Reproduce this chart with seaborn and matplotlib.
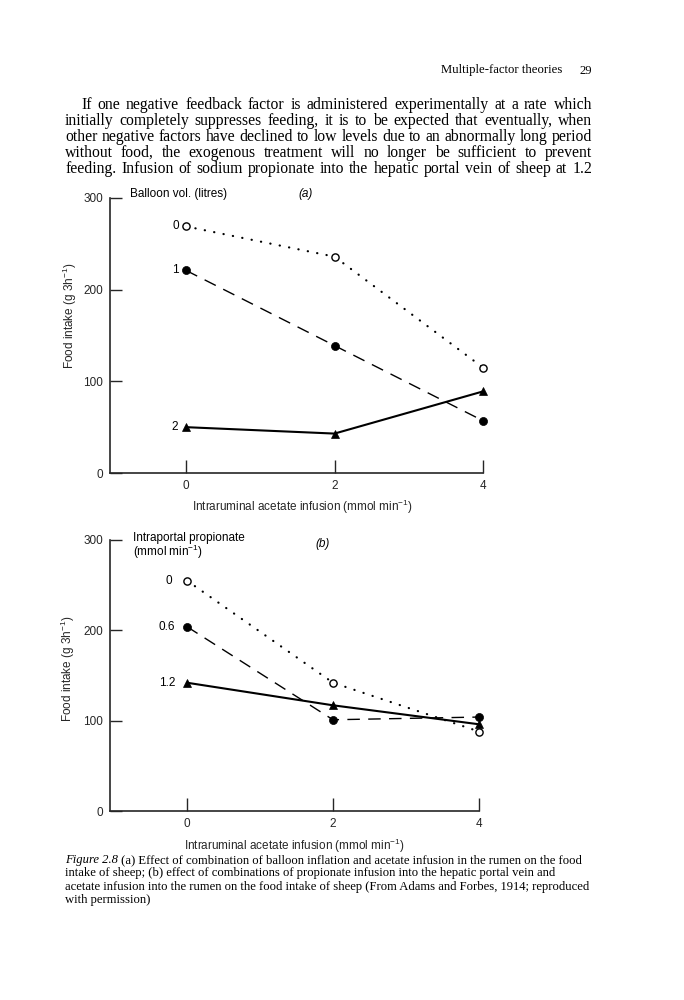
import matplotlib
matplotlib.use("Agg")
import matplotlib.pyplot as plt
import seaborn as sns

# ---- data ----
acetate = [0, 2, 4]  # intraruminal acetate infusion (mmol/min)

# (a) balloon volume (litres)
balloon_labels = ["0", "1", "2"]
balloon_0 = [269, 236, 115]
balloon_1 = [221, 139, 57]
balloon_2 = [50, 43, 89]

# (b) intraportal propionate (mmol/min)
prop_labels = ["0", "0.6", "1.2"]
prop_0 = [255, 142, 88]
prop_06 = [204, 101, 104]
prop_12 = [142, 117, 96]

x_ticks = [0, 2, 4]
y_ticks = [0, 100, 200, 300]

header = "Multiple-factor theories"
page_no = "29"
paragraph = [
    "If one negative feedback factor is administered experimentally at a rate which",
    "initially completely suppresses feeding, it is to be expected that eventually, when",
    "other negative factors have declined to low levels due to an abnormally long period",
    "without food, the exogenous treatment will no longer be sufficient to prevent",
    "feeding. Infusion of sodium propionate into the hepatic portal vein of sheep at 1.2",
]
caption_lead = "Figure 2.8"
caption = [
    " (a) Effect of combination of balloon inflation and acetate infusion in the rumen on the food",
    "intake of sheep; (b) effect of combinations of propionate infusion into the hepatic portal vein and",
    "acetate infusion into the rumen on the food intake of sheep (From Adams and Forbes, 1914; reproduced",
    "with permission)",
]

sns.set_style("ticks")
SANS = "Liberation Sans"
SERIF = "Liberation Serif"
plt.rcParams["font.family"] = [SANS, "DejaVu Sans"]
plt.rcParams["mathtext.fontset"] = "custom"
plt.rcParams["mathtext.rm"] = SANS
plt.rcParams["mathtext.it"] = SANS + ":italic"
plt.rcParams["mathtext.bf"] = SANS + ":bold"
plt.rcParams["text.color"] = "black"

W, H = 684, 1000
fig = plt.figure(figsize=(W / 100, H / 100), dpi=100)
fig.patch.set_facecolor("white")
renderer = fig.canvas.get_renderer()


def width_px(s, **kw):
    t = fig.text(0, 0, s, **kw)
    w = t.get_window_extent(renderer).width
    t.remove()
    return w


def fit(s, target, family, style="normal"):
    return 10 * target / width_px(s, fontsize=10, family=family, style=style)


def justified(line, x0, x1, y, size):
    words = line.split()
    arts = [fig.text(0, 1 - y / H, w, fontsize=size, family=SERIF, va="baseline")
            for w in words]
    widths = [a.get_window_extent(renderer).width for a in arts]
    gap = (x1 - x0 - sum(widths)) / (len(words) - 1)
    x = x0
    for a, w in zip(arts, widths):
        a.set_x(x / W)
        x += w + gap


# ---- page text ----
hsize = fit(header, 121, SERIF)
fig.text(441 / W, 1 - 73.5 / H, header, fontsize=hsize, family=SERIF, va="baseline")
fig.text(579 / W, 1 - 73.5 / H, page_no, fontsize=hsize, family=SERIF, va="baseline")

psize = fit(paragraph[2], 527, SERIF)
for i, line in enumerate(paragraph):
    justified(line, 81 if i == 0 else 65, 592, 109 + 16 * i, psize)

csize = fit(caption[2], 522, SERIF)
lead = fig.text(65 / W, 1 - 863 / H, caption_lead, fontsize=csize, family=SERIF,
                style="italic", va="baseline")
lead_w = lead.get_window_extent(renderer).width
for i, line in enumerate(caption):
    x0 = 65 + lead_w if i == 0 else 65
    fig.text(x0 / W, 1 - (863 + 13.4 * i) / H, line, fontsize=csize, family=SERIF,
             va="baseline")


# ---- charts ----
styles = [
    dict(linestyle=(0, (0.1, 4.2)), dash_capstyle="round", lw=1.6, marker="o",
         markersize=5.2, markerfacecolor="white", markeredgecolor="black", markeredgewidth=1.0),
    dict(linestyle=(0, (9, 6)), lw=1.0, marker="o", markersize=5.8,
         markerfacecolor="black", markeredgecolor="black", markeredgewidth=0.5),
    dict(linestyle="-", lw=1.5, marker="^", markersize=6,
         markerfacecolor="black", markeredgecolor="black", markeredgewidth=0.5),
]
FS = 8.5


def panel(rect, xmin, series, labels, label_dx, heading, tag, tag_xy, ylab_xy, xlab_xy):
    ax = fig.add_axes(rect)
    for vals, lab, st, dx in zip(series, labels, styles, label_dx):
        sns.lineplot(x=acetate, y=vals, ax=ax, color="black", clip_on=False, **st)
        ax.annotate(lab, xy=(acetate[0], vals[0]), xytext=(dx, 0),
                    textcoords="offset points", ha="right", va="center", fontsize=FS)
    ax.set_xlim(xmin, 4)
    ax.set_ylim(0, 300)
    ax.set_xticks(x_ticks)
    ax.set_yticks(y_ticks)
    sns.despine(ax=ax)
    for s in ("left", "bottom"):
        ax.spines[s].set_linewidth(1.2)
    ax.tick_params(axis="y", direction="in", length=8.5, width=1.0, pad=5, labelsize=FS)
    ax.tick_params(axis="x", direction="in", length=9.5, width=1.0, pad=5, labelsize=FS)
    ax.set_ylabel("Food intake (g 3h$^{-1}$)", fontsize=FS)
    ax.set_xlabel("Intraruminal acetate infusion (mmol min$^{-1}$)", fontsize=FS)
    ax.yaxis.set_label_coords(*ylab_xy)
    ax.xaxis.set_label_coords(*xlab_xy)
    for (tx, ty, txt) in heading:
        ax.text(tx, ty, txt, transform=ax.transAxes, fontsize=FS, va="center", ha="left")
    ax.text(tag_xy[0], tag_xy[1], tag, transform=ax.transAxes, fontsize=FS,
            style="italic", va="center", ha="center")
    ax.set_facecolor("white")
    return ax


panel([110 / W, 1 - 473 / H, 373 / W, 275 / H], -1.024,
      [balloon_0, balloon_1, balloon_2], balloon_labels, [-5, -5, -5.5],
      [(0.054, 1.015, "Balloon vol. (litres)")], "(a)", (0.523, 1.015),
      (-0.083, 0.571), (0.515, -0.09))

panel([110 / W, 1 - 811 / H, 369 / W, 271 / H], -1.055,
      [prop_0, prop_06, prop_12], prop_labels, [-10.5, -8.5, -8],
      [(0.062, 1.006, "Intraportal propionate"), (0.062, 0.956, "(mmol min$^{-1}$)")],
      "(b)", (0.577, 0.985),
      (-0.089, 0.524), (0.5, -0.097))

fig.savefig("out.png", dpi=100, facecolor="white")
